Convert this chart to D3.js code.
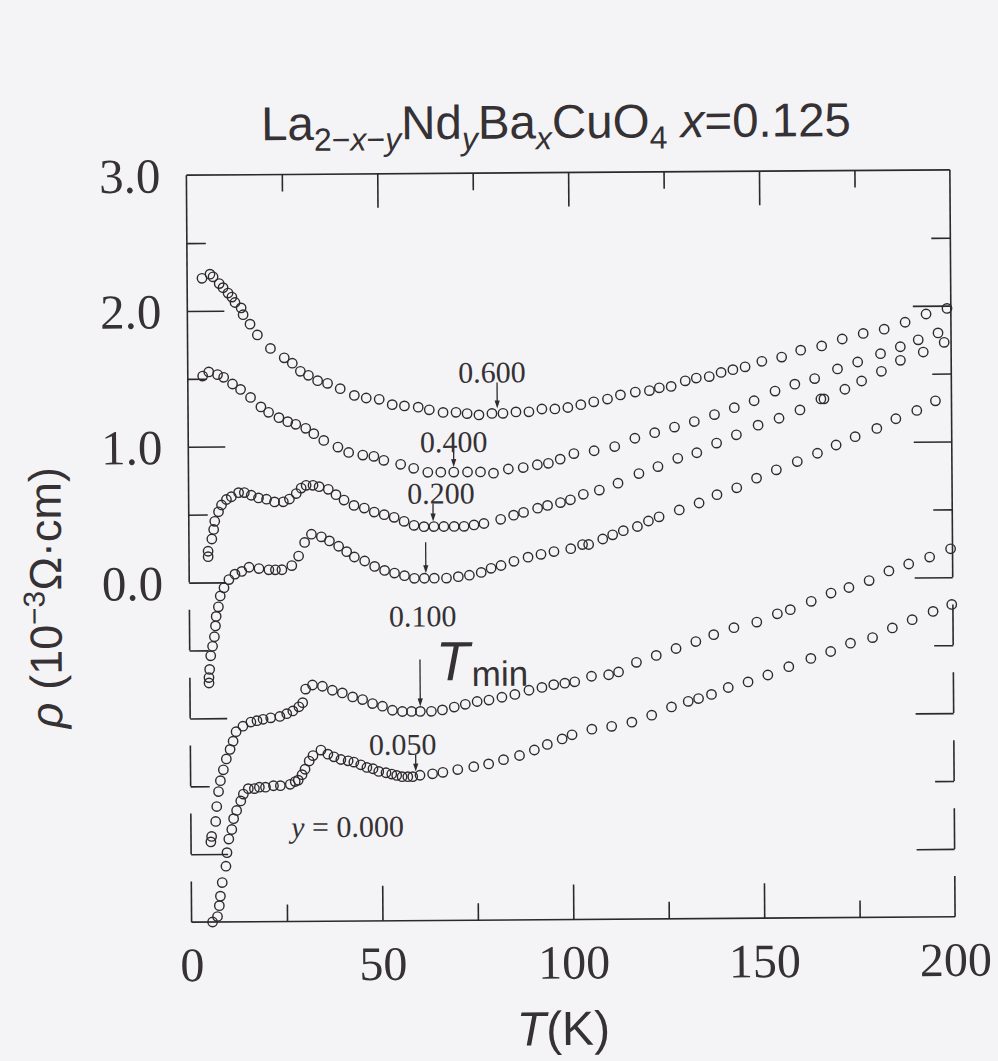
<!DOCTYPE html>
<html>
<head>
<meta charset="utf-8">
<script src="https://cdn.jsdelivr.net/npm/d3@7"></script>
<style>
body { margin: 0; background: #f4f4f6; }
svg { display: block; background: #f4f4f6; }
text { fill: #353135; }
.frame line, .frame path { stroke: #2c282b; stroke-width: 1.6; fill: none; }
.tick line { stroke: #2c282b; stroke-width: 1.6; }
.pt { fill: none; stroke: #2e2a2d; stroke-width: 1.4; }
.arrow { stroke: #2e2a2d; stroke-width: 1.3; }
</style>
</head>
<body>
<svg></svg>
<script>

// resistivity curves, [T (K), rho (offset, 10^-3 ohm cm)]
var curveA = [
  [3.9,2.24],[6.0,2.27],[6.8,2.25],[8.4,2.20],[9.4,2.17],[10.7,2.13],[11.7,2.10],[12.5,2.06],
  [14.1,2.02],[14.6,1.97],[16.4,1.90],[18.3,1.82],[21.7,1.72],[25.3,1.65],[27.4,1.61],[29.5,1.55],
  [31.6,1.52],[34.0,1.48],[36.6,1.46],[39.9,1.42],[43.6,1.37],[46.7,1.35],[50.1,1.34],[53.5,1.30],
  [56.7,1.29],[60.3,1.28],[63.2,1.26],[66.8,1.24],[70.2,1.24],[73.1,1.23],[76.2,1.22],[79.6,1.23],
  [82.5,1.23],[85.9,1.24],[89.3,1.24],[92.7,1.26],[96.1,1.26],[99.5,1.27],[102.9,1.29],[106.3,1.31],
  [109.9,1.33],[113.3,1.36],[117.2,1.38],[120.9,1.39],[123.5,1.41],[126.6,1.42],[130.3,1.46],
  [133.2,1.48],[136.6,1.49],[139.7,1.52],[142.8,1.54],[146.0,1.56],[150.4,1.60],[155.6,1.63],
  [160.6,1.68],[166.1,1.71],[171.5,1.76],[177.0,1.80],[182.5,1.83],[188.0,1.88],[193.5,1.94],[199.0,1.98]
];
var curveB = [
  [3.9,1.52],[5.5,1.55],[7.8,1.53],[9.4,1.51],[11.7,1.46],[13.8,1.42],[16.4,1.36],[19.1,1.29],
  [21.1,1.25],[23.8,1.21],[26.1,1.18],[28.2,1.16],[30.8,1.13],[32.9,1.09],[35.5,1.04],[39.2,0.99],
  [42.0,0.95],[45.7,0.93],[48.6,0.92],[51.2,0.89],[55.6,0.86],[59.0,0.83],[62.7,0.80],[66.1,0.80],
  [69.5,0.80],[73.1,0.80],[76.5,0.80],[79.9,0.79],[83.8,0.82],[87.7,0.83],[91.4,0.85],[94.3,0.86],
  [97.4,0.89],[101.0,0.93],[106.3,0.95],[111.7,0.98],[117.0,1.04],[122.2,1.08],[127.4,1.12],
  [132.6,1.16],[137.9,1.21],[143.1,1.26],[148.3,1.31],[153.8,1.38],[159.0,1.43],[164.2,1.47],
  [170.2,1.54],[175.5,1.59],[181.5,1.65],[186.7,1.70],[191.4,1.75],[196.6,1.80]
];
var curveC = [
  [5.0,0.19],[5.0,0.23],[6.0,0.32],[6.5,0.39],[6.8,0.45],[7.8,0.52],[8.6,0.57],[9.9,0.61],[11.2,0.63],
  [13.1,0.66],[14.6,0.66],[16.4,0.64],[18.3,0.62],[20.4,0.61],[22.5,0.59],[24.8,0.59],[26.4,0.61],
  [28.2,0.65],[29.5,0.69],[30.8,0.71],[32.6,0.71],[34.2,0.70],[36.6,0.68],[38.6,0.64],[40.7,0.60],
  [43.3,0.56],[46.0,0.54],[48.6,0.51],[51.2,0.49],[53.8,0.47],[56.4,0.44],[59.0,0.41],[61.6,0.40],
  [64.2,0.40],[66.8,0.40],[69.5,0.40],[72.1,0.40],[74.7,0.41],[77.3,0.42],[81.7,0.45],[85.1,0.48],
  [87.7,0.50],[91.4,0.53],[94.0,0.55],[97.4,0.57],[100.0,0.59],[103.4,0.63],[107.6,0.66],[112.5,0.71],
  [118.0,0.78],[123.0,0.83],[128.2,0.89],[133.2,0.93],[138.4,1.00],[143.6,1.06],[149.3,1.13],
  [154.8,1.18],[160.3,1.24],[165.8,1.32],[166.6,1.32],[172.1,1.39],[176.5,1.45],[181.7,1.52],
  [186.7,1.60],[192.7,1.66],[198.2,1.73]
];
var curveD = [
  [5.0,-0.74],[5.0,-0.70],[5.2,-0.64],[5.5,-0.54],[6.0,-0.47],[6.5,-0.40],[6.8,-0.32],[7.0,-0.25],
  [7.6,-0.18],[8.1,-0.10],[9.1,-0.04],[10.4,0.02],[12.0,0.06],[13.8,0.08],[15.7,0.11],[18.3,0.10],
  [20.9,0.09],[22.6,0.09],[24.3,0.09],[26.9,0.12],[28.7,0.19],[30.3,0.29],[32.1,0.35],[34.7,0.33],
  [36.8,0.30],[39.2,0.26],[41.3,0.22],[43.3,0.18],[46.0,0.15],[48.6,0.11],[51.2,0.08],[53.8,0.06],
  [56.4,0.04],[59.0,0.02],[61.6,0.02],[64.2,0.02],[67.4,0.02],[70.5,0.03],[73.4,0.04],[76.5,0.06],
  [79.1,0.09],[81.7,0.11],[85.1,0.14],[88.8,0.17],[92.2,0.19],[95.6,0.21],[100.0,0.23],[103.1,0.26],
  [104.7,0.26],[108.4,0.30],[111.0,0.33],[113.8,0.36],[117.5,0.39],[120.4,0.43],[123.2,0.46],
  [128.5,0.51],[133.7,0.56],[138.4,0.62],[143.6,0.67],[148.8,0.74],[154.0,0.80],[159.5,0.86],
  [164.8,0.92],[169.7,0.98],[174.7,1.04],[180.4,1.10],[185.4,1.17],[190.9,1.23],[195.8,1.30]
];
var curveE = [
  [5.2,-1.91],[5.4,-1.87],[6.5,-1.76],[6.8,-1.65],[7.3,-1.54],[7.8,-1.46],[8.6,-1.38],[9.4,-1.30],
  [10.4,-1.23],[11.2,-1.17],[12.0,-1.10],[13.8,-1.06],[15.9,-1.03],[17.5,-1.02],[19.1,-1.01],
  [21.1,-1.00],[23.5,-0.99],[25.3,-0.97],[26.9,-0.95],[28.5,-0.92],[29.5,-0.89],[30.3,-0.79],
  [32.1,-0.76],[34.7,-0.77],[37.3,-0.80],[39.9,-0.82],[42.6,-0.85],[45.2,-0.87],[47.8,-0.90],
  [50.4,-0.92],[53.0,-0.95],[55.6,-0.96],[58.0,-0.96],[60.3,-0.96],[63.2,-0.96],[66.1,-0.95],
  [69.2,-0.93],[72.1,-0.91],[75.2,-0.89],[78.3,-0.88],[81.7,-0.86],[85.1,-0.84],[88.8,-0.81],
  [92.2,-0.79],[95.3,-0.77],[98.2,-0.76],[100.8,-0.75],[105.2,-0.71],[109.7,-0.70],[112.3,-0.68],
  [117.0,-0.61],[122.2,-0.56],[127.4,-0.51],[132.6,-0.46],[137.3,-0.41],[142.6,-0.36],[148.6,-0.32],
  [154.0,-0.26],[157.4,-0.23],[162.9,-0.17],[168.1,-0.11],[172.8,-0.07],[178.1,-0.02],[183.3,0.05],
  [188.5,0.10],[194.0,0.15],[199.5,0.21]
];
var curveF = [
  [5.5,-2.50],[6.8,-2.46],[7.3,-2.38],[7.6,-2.31],[8.1,-2.21],[9.1,-2.09],[9.4,-1.99],[9.9,-1.89],
  [10.7,-1.82],[11.2,-1.74],[12.0,-1.68],[13.1,-1.61],[13.8,-1.56],[15.1,-1.52],[16.7,-1.52],
  [18.0,-1.51],[19.6,-1.51],[21.7,-1.50],[23.5,-1.50],[26.1,-1.49],[27.4,-1.47],[28.2,-1.46],
  [29.2,-1.42],[30.0,-1.38],[31.1,-1.32],[32.1,-1.28],[34.2,-1.24],[36.0,-1.27],[37.6,-1.29],
  [39.4,-1.31],[41.3,-1.32],[42.8,-1.33],[44.6,-1.35],[46.2,-1.37],[47.8,-1.38],[49.3,-1.40],
  [51.2,-1.41],[52.7,-1.42],[54.0,-1.43],[55.4,-1.44],[56.9,-1.44],[58.2,-1.44],[60.1,-1.43],
  [63.4,-1.42],[66.1,-1.41],[70.0,-1.39],[74.2,-1.37],[78.1,-1.35],[82.0,-1.32],[86.2,-1.29],
  [90.1,-1.25],[93.5,-1.21],[97.4,-1.17],[100.0,-1.14],[105.2,-1.10],[110.4,-1.08],[115.7,-1.05],
  [120.9,-1.00],[126.1,-0.94],[130.5,-0.90],[133.2,-0.88],[136.6,-0.85],[141.0,-0.80],[146.2,-0.76],
  [151.4,-0.71],[156.9,-0.65],[162.7,-0.59],[167.9,-0.54],[173.1,-0.48],[178.9,-0.44],[184.1,-0.37],
  [189.3,-0.31],[194.8,-0.25],[199.7,-0.20]
];
var curves = [curveA, curveB, curveC, curveD, curveE, curveF];

// T_min arrows and their labels
var arrowT = [81, 69.5, 64, 62, 60.3, 59];
var arrowLabel = ["0.600", "0.400", "0.200", "", "0.100", "0.050"];

// axis ticks
var yMajor = [2, 1, 0, -1, -2];
var yMinor = [2.5, 1.5, 0.5, -0.5, -1.5];
var yLabels = [3, 2, 1, 0];
var yBreaks = [-0.5, -1, -1.5, -2, -2.5];
var xMajor = [50, 100, 150];
var xMinor = [25, 75, 125, 175];
var xLabels = [0, 50, 100, 150, 200];

// layout of the arrows (pixels)
var arrowLen = [26, 15, 18, 31, 47, 17];
var labelDx = [-5, 0, 8, 0, 3, -13];
var labelDy = [0, 0, 0, 0, -33, 0];

var width = 998, height = 1061;
var svg = d3.select("svg").attr("width", width).attr("height", height);

// the scan is slightly tilted
var g = svg.append("g").attr("transform", "rotate(-0.4, 570, 549)");

var x = d3.scaleLinear().domain([0, 200]).range([189, 952.5]);
var y = d3.scaleLinear().domain([-2.5, 3]).range([919.5, 172.5]);

var serif = "'Liberation Serif', 'Times New Roman', serif";
var sans = "'Liberation Sans', Arial, sans-serif";

// frame
var frame = g.append("g").attr("class", "frame");
frame.append("line").attr("x1", x(0)).attr("x2", x(200)).attr("y1", y(3)).attr("y2", y(3));
frame.append("line").attr("x1", x(0)).attr("x2", x(200)).attr("y1", y(-2.5)).attr("y2", y(-2.5));
[0, 200].forEach(function (t) {
  frame.append("line").attr("x1", x(t)).attr("x2", x(t)).attr("y1", y(3)).attr("y2", y(0));
  frame.selectAll(null).data(yBreaks).enter().append("line")
    .attr("x1", x(t)).attr("x2", x(t))
    .attr("y1", function (d) { return y(d + 0.3); })
    .attr("y2", function (d) { return y(d); });
});

function ticks(axis, tx, ty) {
  var a = g.append("g").attr("transform", "translate(" + tx + "," + ty + ")").call(axis);
  a.select(".domain").remove();
  return a;
}
ticks(d3.axisRight(y).tickValues(yMajor).tickSize(37).tickFormat(""), x(0), 0);
ticks(d3.axisRight(y).tickValues(yMinor).tickSize(19).tickFormat(""), x(0), 0);
ticks(d3.axisLeft(y).tickValues(yMajor).tickSize(38).tickFormat(""), x(200), 0);
ticks(d3.axisLeft(y).tickValues(yMinor).tickSize(19).tickFormat(""), x(200), 0);
ticks(d3.axisBottom(x).tickValues(xMajor).tickSize(34).tickFormat(""), 0, y(3));
ticks(d3.axisBottom(x).tickValues(xMinor).tickSize(17).tickFormat(""), 0, y(3));
ticks(d3.axisTop(x).tickValues(xMajor).tickSize(35).tickFormat(""), 0, y(-2.5));
ticks(d3.axisTop(x).tickValues(xMinor).tickSize(17).tickFormat(""), 0, y(-2.5));

var yl = ticks(d3.axisLeft(y).tickValues(yLabels).tickSize(0).tickPadding(26)
  .tickFormat(d3.format(".1f")), x(0), 0);
yl.selectAll("text").attr("font-family", serif).attr("font-size", 49).attr("dy", "0.34em");

var xl = ticks(d3.axisBottom(x).tickValues(xLabels).tickSize(0).tickPadding(25), 0, y(-2.5));
xl.selectAll("text").attr("font-family", serif).attr("font-size", 48);

// data points
curves.forEach(function (c) {
  g.append("g").selectAll("circle").data(c).enter().append("circle")
    .attr("class", "pt")
    .attr("cx", function (d) { return x(d[0]); })
    .attr("cy", function (d) { return y(d[1]); })
    .attr("r", 4.7);
});

// T_min arrows
curves.forEach(function (c, i) {
  var t = arrowT[i];
  var near = d3.least(c, function (d) { return Math.abs(d[0] - t); });
  var ax = x(t), tip = y(near[1]) - 5, top = tip - arrowLen[i];
  g.append("line").attr("class", "arrow")
    .attr("x1", ax).attr("x2", ax).attr("y1", top).attr("y2", tip - 6);
  g.append("path").attr("fill", "#2e2a2d")
    .attr("d", "M" + (ax - 2.6) + "," + (tip - 8) + "L" + (ax + 2.6) + "," + (tip - 8) + "L" + ax + "," + tip + "Z");
  if (arrowLabel[i]) {
    g.append("text").attr("x", ax + labelDx[i]).attr("y", top + labelDy[i])
      .attr("text-anchor", "middle").attr("font-family", serif).attr("font-size", 30)
      .text(arrowLabel[i]);
  }
  if (i === 4) {
    var tm = g.append("text").attr("x", ax + 16).attr("y", top + 21).attr("font-family", sans);
    tm.append("tspan").attr("font-size", 55).attr("font-style", "italic").text("T");
    tm.append("tspan").attr("font-size", 35).attr("dy", 6).attr("dx", 2).text("min");
  }
});

// y = 0.000 label
var y0 = g.append("text").attr("x", x(41)).attr("y", y(-1.88))
  .attr("text-anchor", "middle").attr("font-family", serif).attr("font-size", 30);
y0.append("tspan").attr("font-style", "italic").text("y");
y0.append("tspan").text(" = 0.000");

// title
var title = g.append("text").attr("x", 264).attr("y", 138)
  .attr("font-family", sans).attr("font-size", 47.5);
function part(txt, opt) {
  var s = title.append("tspan").text(txt);
  if (opt && opt.sub) s.attr("font-size", 32);
  if (opt && opt.it) s.attr("font-style", "italic");
  if (opt && opt.dy) s.attr("dy", opt.dy);
  return s;
}
part("La");
part("2\u2212", { sub: 1, dy: 11 });
part("x", { sub: 1, it: 1 });
part("\u2212", { sub: 1 });
part("y", { sub: 1, it: 1 });
part("Nd", { dy: -11 });
part("y", { sub: 1, it: 1, dy: 11 });
part("Ba", { dy: -11 });
part("x", { sub: 1, it: 1, dy: 11 });
part("CuO", { dy: -11 });
part("4", { sub: 1, dy: 11 });
part(" ", { dy: -11 });
part("x", { it: 1 });
part("=0.125");

// axis titles
var yt = g.append("text").attr("transform", "translate(61,594) rotate(-90)")
  .attr("text-anchor", "middle").attr("font-family", sans).attr("font-size", 45);
yt.append("tspan").attr("font-style", "italic").text("\u03c1");
yt.append("tspan").text(" (10");
yt.append("tspan").attr("font-size", 30).attr("dy", -17).text("\u22123");
yt.append("tspan").attr("dy", 17).text("\u03a9\u00b7cm)");

var xt = g.append("text").attr("x", 560).attr("y", 1045)
  .attr("text-anchor", "middle").attr("font-family", sans).attr("font-size", 48);
xt.append("tspan").attr("font-style", "italic").text("T");
xt.append("tspan").text("(K)");

</script>
</body>
</html>
